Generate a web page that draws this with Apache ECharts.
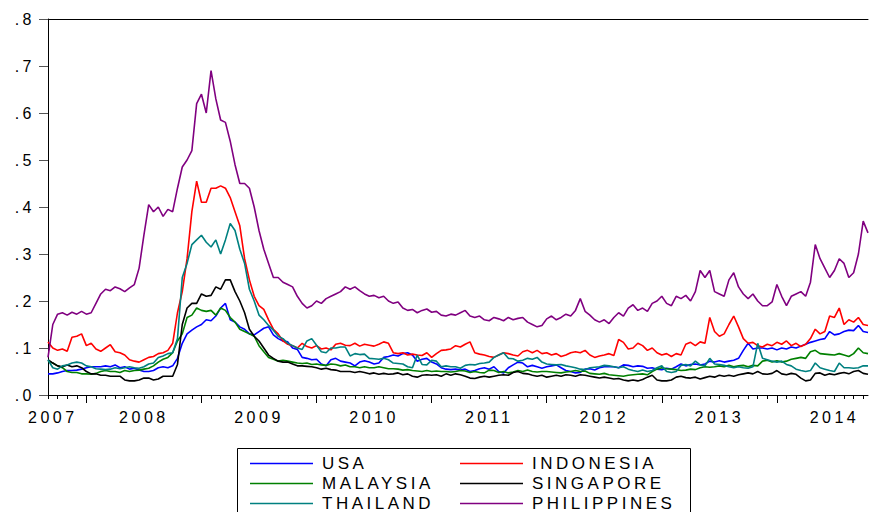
<!DOCTYPE html>
<html>
<head>
<meta charset="utf-8">
<script src="https://cdn.jsdelivr.net/npm/echarts@6/dist/echarts.min.js"></script>
<style>
  html, body { margin: 0; padding: 0; background: #fff; }
  #chart { width: 870px; height: 512px; }
  /* EViews style wide lettering */
  #chart text { letter-spacing: 3.5px; }
</style>
</head>
<body>
<div id="chart"></div>
<script>
// semi-monthly observations, Sep 2007 .. Oct 2014
const dates = []
for (let y = 2007; y <= 2014; y++) {
  for (let m = 1; m <= 12; m++) {
    const mm = String(m).padStart(2, '0')
    for (const d of ['01', '16']) {
      const s = `${y}-${mm}-${d}`
      if (s >= '2007-09-01' && s <= '2014-10-16') dates.push(s)
    }
  }
}

const years = ['2007', '2008', '2009', '2010', '2011', '2012', '2013', '2014']
const yearLabelAt = ['2007-09-16', '2008-07-01', '2009-07-01', '2010-07-01', '2011-07-01', '2012-07-01', '2013-07-01', '2014-07-01']

const usa = [
  .045,.045,.047,.05,.052,.052,.053,.055,.058,.06,
  .06,.06,.062,.06,.064,.058,.06,.055,.057,.053,
  .05,.05,.052,.058,.06,.058,.062,.078,.11,.13,
  .138,.145,.15,.16,.158,.168,.185,.195,.16,.155,
  .145,.14,.13,.128,.135,.142,.145,.128,.12,.115,
  .113,.10,.097,.08,.078,.075,.076,.066,.062,.075,
  .078,.072,.07,.068,.062,.07,.073,.07,.066,.068,
  .08,.082,.085,.083,.088,.09,.085,.072,.076,.078,
  .07,.066,.058,.055,.054,.055,.053,.055,.05,.052,
  .056,.058,.055,.06,.05,.047,.058,.064,.07,.068,
  .06,.063,.06,.057,.06,.062,.064,.058,.052,.05,
  .047,.048,.055,.056,.053,.058,.06,.06,.06,.058,
  .064,.063,.06,.062,.061,.057,.058,.055,.054,.057,
  .055,.06,.066,.062,.065,.066,.064,.066,.072,.07,
  .073,.07,.072,.074,.078,.095,.11,.098,.10,.10,
  .098,.10,.096,.10,.098,.102,.10,.104,.108,.112,
  .115,.118,.12,.135,.128,.13,.135,.138,.137,.148,
  .135,.133
]
const indonesia = [
  .113,.10,.095,.098,.093,.123,.125,.13,.105,.11,
  .098,.093,.10,.107,.092,.09,.085,.075,.072,.07,
  .075,.08,.082,.088,.09,.095,.11,.175,.22,.29,
  .39,.455,.41,.41,.44,.44,.445,.44,.42,.39,
  .36,.29,.245,.21,.19,.182,.16,.14,.13,.115,
  .108,.105,.10,.11,.103,.10,.105,.098,.10,.096,
  .108,.11,.106,.105,.11,.104,.108,.106,.104,.108,
  .113,.11,.09,.088,.09,.085,.087,.085,.084,.09,
  .08,.088,.095,.096,.098,.105,.102,.108,.113,.09,
  .087,.085,.082,.08,.085,.09,.088,.085,.083,.092,
  .095,.09,.095,.088,.09,.085,.088,.082,.085,.09,
  .092,.09,.095,.085,.08,.083,.085,.088,.084,.118,
  .112,.098,.10,.11,.105,.095,.10,.09,.085,.088,
  .082,.088,.085,.108,.112,.105,.113,.11,.165,.135,
  .125,.13,.15,.168,.145,.12,.11,.112,.105,.102,
  .108,.105,.112,.108,.115,.105,.11,.103,.108,.12,
  .14,.13,.135,.168,.165,.185,.15,.16,.155,.165,
  .15,.148
]
const malaysia = [
  .072,.068,.062,.058,.05,.048,.048,.045,.045,.044,
  .046,.05,.052,.05,.05,.048,.052,.05,.052,.053,
  .055,.057,.062,.07,.076,.08,.09,.115,.13,.165,
  .17,.185,.18,.178,.18,.17,.185,.18,.165,.155,
  .14,.135,.13,.125,.105,.092,.08,.076,.072,.074,
  .072,.07,.068,.067,.068,.065,.066,.064,.063,.066,
  .065,.062,.064,.06,.06,.058,.06,.058,.058,.06,
  .058,.056,.056,.055,.053,.054,.052,.051,.05,.052,
  .05,.051,.05,.05,.049,.05,.052,.051,.048,.05,
  .048,.047,.053,.052,.048,.05,.047,.049,.052,.05,
  .053,.05,.049,.05,.05,.049,.048,.047,.049,.05,
  .052,.05,.051,.046,.045,.044,.046,.043,.042,.041,
  .04,.042,.043,.044,.045,.043,.05,.055,.058,.056,
  .055,.054,.052,.053,.055,.054,.058,.06,.059,.06,
  .062,.06,.063,.06,.062,.063,.06,.063,.062,.072,
  .074,.07,.073,.07,.072,.076,.078,.08,.078,.092,
  .095,.088,.087,.086,.085,.088,.085,.082,.088,.10,
  .09,.088
]
const singapore = [
  .075,.068,.062,.06,.064,.06,.062,.058,.05,.045,
  .045,.042,.042,.04,.04,.04,.032,.03,.03,.032,
  .036,.036,.032,.034,.04,.04,.04,.065,.15,.185,
  .195,.195,.215,.21,.212,.23,.225,.245,.245,.22,
  .20,.175,.14,.125,.115,.10,.085,.078,.072,.07,
  .07,.066,.062,.062,.061,.06,.058,.055,.057,.054,
  .053,.05,.05,.05,.048,.05,.048,.045,.047,.044,
  .046,.044,.045,.047,.043,.045,.04,.038,.042,.043,
  .042,.043,.04,.045,.042,.045,.043,.04,.036,.035,
  .038,.04,.038,.04,.042,.043,.042,.048,.05,.046,
  .045,.042,.04,.042,.038,.04,.042,.04,.043,.042,
  .04,.043,.042,.04,.038,.036,.038,.036,.034,.035,
  .032,.03,.032,.03,.033,.038,.042,.032,.03,.03,
  .032,.038,.04,.037,.036,.038,.034,.037,.04,.038,
  .042,.04,.042,.04,.043,.045,.047,.045,.05,.045,
  .044,.046,.052,.045,.043,.046,.044,.036,.03,.032,
  .046,.047,.042,.045,.043,.046,.048,.045,.05,.052,
  .046,.044
]
const thailand = [
  .075,.058,.055,.062,.064,.068,.07,.068,.062,.06,
  .056,.055,.054,.055,.058,.056,.058,.06,.058,.057,
  .06,.066,.068,.08,.083,.088,.09,.12,.25,.28,
  .32,.33,.34,.325,.315,.33,.30,.33,.365,.35,
  .31,.28,.225,.20,.17,.16,.148,.138,.125,.12,
  .11,.105,.10,.097,.115,.12,.106,.092,.09,.10,
  .10,.102,.102,.083,.088,.086,.087,.078,.077,.076,
  .078,.075,.068,.067,.066,.06,.058,.085,.065,.064,
  .074,.072,.06,.062,.06,.06,.057,.063,.065,.064,
  .067,.068,.07,.08,.085,.09,.078,.077,.072,.074,
  .078,.076,.08,.07,.066,.065,.064,.065,.062,.06,
  .058,.055,.054,.058,.059,.06,.063,.062,.06,.058,
  .06,.055,.052,.05,.053,.05,.052,.058,.062,.05,
  .048,.05,.063,.065,.062,.072,.064,.062,.078,.066,
  .065,.063,.06,.058,.06,.058,.057,.06,.11,.078,
  .075,.072,.07,.072,.065,.062,.055,.052,.05,.052,
  .068,.058,.055,.052,.05,.068,.058,.058,.057,.058,
  .062,.062
]
const philippines = [
  .08,.15,.172,.175,.17,.176,.172,.178,.172,.175,
  .195,.215,.225,.222,.23,.226,.22,.228,.235,.27,
  .34,.405,.39,.40,.38,.395,.39,.44,.485,.50,
  .52,.62,.64,.60,.69,.63,.585,.58,.54,.49,
  .45,.45,.44,.40,.35,.31,.28,.25,.25,.24,
  .235,.23,.21,.195,.185,.19,.20,.195,.205,.21,
  .215,.22,.23,.225,.23,.222,.215,.21,.212,.207,
  .21,.20,.195,.198,.185,.18,.182,.175,.18,.183,
  .176,.178,.17,.168,.172,.17,.175,.18,.168,.165,
  .168,.16,.158,.165,.162,.158,.165,.16,.163,.165,
  .155,.15,.145,.148,.162,.168,.16,.165,.172,.168,
  .18,.205,.178,.17,.16,.155,.16,.152,.165,.175,
  .168,.185,.192,.18,.185,.178,.195,.20,.21,.195,
  .19,.21,.205,.212,.20,.22,.265,.25,.265,.22,
  .215,.21,.245,.26,.23,.215,.205,.215,.20,.19,
  .19,.198,.235,.21,.19,.21,.215,.22,.21,.24,
  .32,.29,.27,.25,.265,.29,.28,.25,.26,.30,
  .37,.345
]

const seriesDefs = [
  { name: 'USA', data: usa, color: '#0000ff' },
  { name: 'INDONESIA', data: indonesia, color: '#ff0000' },
  { name: 'MALAYSIA', data: malaysia, color: '#008000' },
  { name: 'SINGAPORE', data: singapore, color: '#000000' },
  { name: 'THAILAND', data: thailand, color: '#008080' },
  { name: 'PHILIPPINES', data: philippines, color: '#800080' },
]

const font = '"Liberation Sans", Arial, sans-serif'
const chart = echarts.init(document.getElementById('chart'), null, { renderer: 'svg' })

const legendBase = {
  orient: 'vertical',
  top: 455,
  height: 120,
  padding: 0,
  itemGap: 3,
  itemWidth: 63,
  itemHeight: 1.5,
  icon: 'rect',
  textStyle: { fontFamily: font, fontSize: 17, color: '#000', padding: [0, 0, 0, 4] },
}

chart.setOption({
  animation: false,
  backgroundColor: '#fff',
  grid: { left: 48, right: 2, top: 19, bottom: 117 },
  legend: [
    { ...legendBase, left: 250, data: ['USA', 'MALAYSIA', 'THAILAND'] },
    { ...legendBase, left: 460, data: ['INDONESIA', 'SINGAPORE', 'PHILIPPINES'] },
  ],
  // frame around the two legend columns
  graphic: [{
    type: 'rect', silent: true,
    shape: { x: 237.5, y: 448.5, width: 453, height: 80 },
    style: { fill: 'none', stroke: '#000', lineWidth: 1 },
  }],
  xAxis: [
    {
      type: 'category', data: dates, boundaryGap: false, position: 'bottom',
      axisLine: { lineStyle: { color: '#000', width: 1 } },
      axisTick: { length: 8, lineStyle: { color: '#000' }, interval: (i, v) => v.endsWith('-01-01') },
      axisLabel: {
        interval: (i, v) => yearLabelAt.includes(v),
        formatter: v => years[yearLabelAt.indexOf(v)],
        fontFamily: font, fontSize: 16, color: '#000', margin: 14,
      },
      splitLine: { show: false },
    },
    {
      type: 'category', data: dates, boundaryGap: false, position: 'bottom',
      axisLine: { show: false },
      axisTick: { length: 4, lineStyle: { color: '#000' }, interval: (i, v) => v.endsWith('-01') },
      axisLabel: { show: false },
      splitLine: { show: false },
    },
    {
      type: 'category', data: dates, boundaryGap: false, position: 'top',
      axisLine: { lineStyle: { color: '#000', width: 1 } },
      axisTick: { show: false },
      axisLabel: { show: false },
      splitLine: { show: false },
    },
  ],
  yAxis: {
    type: 'value', min: 0, max: 0.8, interval: 0.1,
    axisLine: { show: true, lineStyle: { color: '#000', width: 1 } },
    axisTick: { show: true, length: 9, lineStyle: { color: '#555' } },
    axisLabel: {
      formatter: v => v.toFixed(1).replace(/^0/, ''),
      fontFamily: font, fontSize: 16, color: '#000', margin: 13,
    },
    splitLine: { show: false },
  },
  series: seriesDefs.map(s => ({
    name: s.name,
    type: 'line',
    data: s.data,
    xAxisIndex: 0,
    symbol: 'none',
    lineStyle: { color: s.color, width: 1.6 },
    itemStyle: { color: s.color },
  })),
})
</script>
</body>
</html>
